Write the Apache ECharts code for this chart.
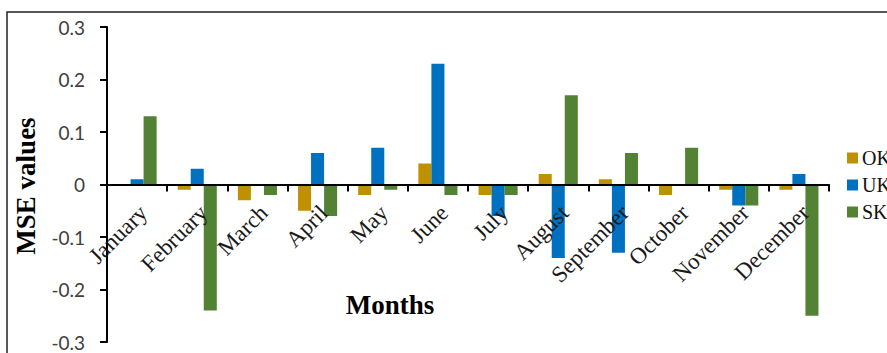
<!DOCTYPE html>
<html>
<head>
<meta charset="utf-8">
<title>MSE values by month</title>
<script src="https://cdn.jsdelivr.net/npm/echarts@6/dist/echarts.min.js"></script>
<style>
  html, body { margin: 0; padding: 0; background: #fff; }
  #chart { width: 887px; height: 353px; }
</style>
</head>
<body>
<div id="chart"></div>
<script>
// Months on the category axis
const months = ['January', 'February', 'March', 'April', 'May', 'June',
  'July', 'August', 'September', 'October', 'November', 'December'];

// Monthly MSE values per method
const okValues = [0, -0.01, -0.03, -0.05, -0.02, 0.04, -0.02, 0.02, 0.01, -0.02, -0.01, -0.01];
const ukValues = [0.01, 0.03, 0, 0.06, 0.07, 0.23, -0.06, -0.14, -0.13, 0, -0.04, 0.02];
const skValues = [0.13, -0.24, -0.02, -0.06, -0.01, -0.02, -0.02, 0.17, 0.06, 0.07, -0.04, -0.25];

// Value axis range
const yMin = -0.3;
const yMax = 0.3;
const yStep = 0.1;

const seriesNames = ['OK', 'UK', 'SK'];
const seriesColors = ['#BF9000', '#0070C0', '#548235'];

const chart = echarts.init(document.getElementById('chart'), null, { renderer: 'svg' });

const serif = '"Liberation Serif", "DejaVu Serif", serif';

// Plot area
const gridTop = 27;
const gridBottom = 11;
const plotHeight = 353 - gridTop - gridBottom;
// lift the category axis from the bottom edge up to the zero line
const zeroOffset = -plotHeight * (0 - yMin) / (yMax - yMin);

chart.setOption({
  animation: false,
  grid: { left: 107, right: 58, top: gridTop, bottom: gridBottom, containLabel: false, outerBoundsMode: 'none' },
  legend: {
    orient: 'vertical',
    left: 842,
    top: 143,
    itemWidth: 11,
    itemHeight: 11,
    itemGap: 7,
    icon: 'rect',
    textStyle: { fontFamily: serif, fontSize: 20, color: '#111', lineHeight: 20, padding: [0, 0, 0, -1] },
    data: seriesNames
  },
  xAxis: {
    type: 'category',
    data: months,
    position: 'bottom',
    offset: zeroOffset,
    z: 5,
    axisLine: { onZero: false, lineStyle: { color: '#000', width: 2 } },
    axisTick: { show: true, alignWithLabel: false, length: 7, lineStyle: { color: '#000', width: 2 } },
    axisLabel: {
      interval: 0,
      rotate: 45,
      margin: 31,
      align: 'right',
      verticalAlign: 'middle',
      lineHeight: 23,
      padding: [0, -9, 0, 0],
      fontFamily: serif,
      fontSize: 23,
      color: '#1a1a1a'
    },
    splitLine: { show: false }
  },
  yAxis: {
    type: 'value',
    min: yMin,
    max: yMax,
    interval: yStep,
    axisLine: { show: true, lineStyle: { color: '#000', width: 2 } },
    axisTick: { show: true, length: 7, lineStyle: { color: '#000', width: 2 } },
    axisLabel: {
      margin: 22,
      fontFamily: 'Lato, "Liberation Sans", sans-serif',
      fontSize: 19,
      color: '#404040',
      formatter: v => (Math.abs(v) < 1e-9 ? '0' : String(Math.round(v * 10) / 10))
    },
    splitLine: { show: false }
  },
  graphic: [
    {
      type: 'rect',
      shape: { x: 7, y: 12, width: 1200, height: 800 },
      style: { fill: 'none', stroke: '#222', lineWidth: 1.5 },
      silent: true
    },
    {
      type: 'text',
      x: 390, y: 305,
      style: {
        text: 'Months',
        font: 'bold 27px ' + serif,
        fill: '#000',
        align: 'center',
        verticalAlign: 'middle'
      }
    },
    {
      type: 'text',
      x: 26, y: 186,
      rotation: Math.PI / 2,
      style: {
        text: 'MSE values',
        font: 'bold 27px ' + serif,
        fill: '#000',
        align: 'center',
        verticalAlign: 'middle'
      }
    }
  ],
  series: [
    { name: seriesNames[0], type: 'bar', data: okValues, itemStyle: { color: seriesColors[0] }, barGap: '0%', barCategoryGap: '35%' },
    { name: seriesNames[1], type: 'bar', data: ukValues, itemStyle: { color: seriesColors[1] }, barGap: '0%', barCategoryGap: '35%' },
    { name: seriesNames[2], type: 'bar', data: skValues, itemStyle: { color: seriesColors[2] }, barGap: '0%', barCategoryGap: '35%' }
  ]
});
</script>
</body>
</html>
